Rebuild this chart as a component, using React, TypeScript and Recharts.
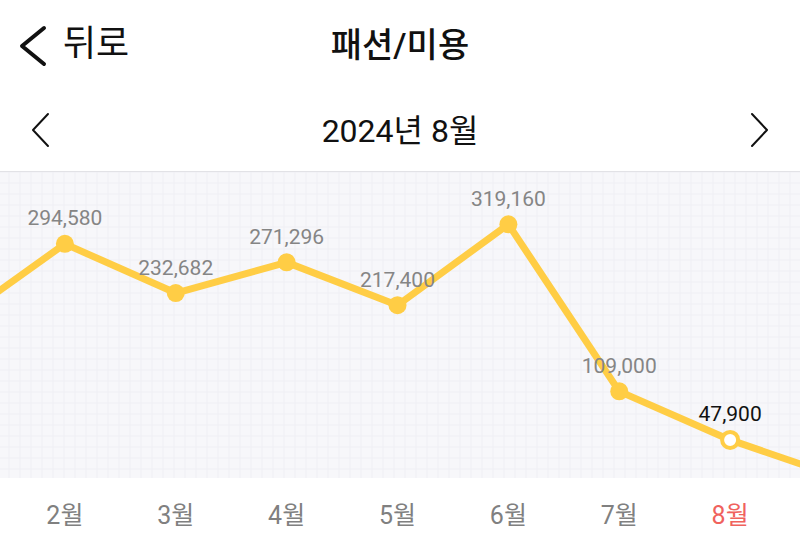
import React from "react";
import { LineChart, Line, XAxis, YAxis, CartesianGrid, LabelList } from "recharts";

// months incl. the neighbours that run off both edges of the screen
const months = ["1월", "2월", "3월", "4월", "5월", "6월", "7월", "8월", "9월"];
const sales = [195000, 294580, 232682, 271296, 217400, 319160, 109000, 47900, 0];
const currentMonth = "8월";
const yMax = 385000;

const YELLOW = "#FFCD45";
const FONT = "Roboto, 'Noto Sans CJK KR', sans-serif";

const data = months.map((m, i) => ({ month: m, value: sales[i] }));

// first and last month sit outside the visible screen
const offScreen = (i: number) => i === 0 || i === months.length - 1;

// faint graph-paper grid behind the line
const gridStep = 11;
const range = (from: number, to: number) => {
  const out: number[] = [];
  for (let v = from; v <= to; v += gridStep) out.push(v);
  return out;
};

const Dot = (props: any) => {
  const { cx, cy, payload } = props;
  if (cx == null || cy == null) return null;
  const isCurrent = payload.month === currentMonth;
  return (
    <circle
      cx={cx}
      cy={cy}
      r={isCurrent ? 8 : 9}
      fill={isCurrent ? "#fff" : YELLOW}
      stroke={YELLOW}
      strokeWidth={isCurrent ? 4 : 0}
    />
  );
};

const ValueLabel = (props: any) => {
  const { x, y, value, index } = props;
  if (offScreen(index)) return null;
  const isCurrent = months[index] === currentMonth;
  return (
    <text
      x={x}
      y={y - 24}
      textAnchor="middle"
      dominantBaseline="middle"
      fontSize={21}
      fontFamily={FONT}
      fill={isCurrent ? "#111" : "#858585"}
    >
      {value.toLocaleString("en-US")}
    </text>
  );
};

const MonthTick = (props: any) => {
  const { x, y, payload, index } = props;
  if (offScreen(index)) return null;
  const isCurrent = payload.value === currentMonth;
  return (
    <text
      x={x}
      y={y + 31}
      textAnchor="middle"
      dominantBaseline="middle"
      fontSize={25}
      fontFamily={FONT}
      fill={isCurrent ? "#F0625D" : "#808080"}
    >
      {payload.value}
    </text>
  );
};

const Chevron = ({ x, dir, w, h, sw }: { x: number; dir: "l" | "r"; w: number; h: number; sw: number }) => (
  <svg width={w + sw * 2} height={h + sw * 2} style={{ position: "absolute", left: x, top: 0 }}>
    <polyline
      points={
        dir === "l"
          ? `${w + sw},${sw} ${sw},${h / 2 + sw} ${w + sw},${h + sw}`
          : `${sw},${sw} ${w + sw},${h / 2 + sw} ${sw},${h + sw}`
      }
      fill="none"
      stroke="#111"
      strokeWidth={sw}
      strokeLinecap="round"
      strokeLinejoin="round"
    />
  </svg>
);

export default function App() {
  return (
    <div
      style={{
        position: "absolute",
        left: 0,
        top: 0,
        width: 800,
        height: 556,
        overflow: "hidden",
        background: "#fff",
        fontFamily: FONT,
        color: "#111",
      }}
    >
      {/* top bar */}
      <div style={{ position: "absolute", left: 0, top: 24, width: 800, height: 40 }}>
        <Chevron x={18} dir="l" w={22} h={36} sw={4} />
        <div style={{ position: "absolute", left: 63, top: 0, fontSize: 36, lineHeight: "40px" }}>뒤로</div>
        <div
          style={{
            position: "absolute",
            left: 0,
            width: 800,
            top: 0,
            textAlign: "center",
            fontSize: 34,
            fontWeight: 500,
            lineHeight: "42px",
          }}
        >
          패션/미용
        </div>
      </div>

      {/* month switcher */}
      <div style={{ position: "absolute", left: 0, top: 112, width: 800, height: 40 }}>
        <Chevron x={31} dir="l" w={15} h={32} sw={2} />
        <div
          style={{
            position: "absolute",
            left: 0,
            width: 800,
            top: 0,
            textAlign: "center",
            fontSize: 32,
            lineHeight: "38px",
          }}
        >
          2024년 8월
        </div>
        <Chevron x={750} dir="r" w={15} h={32} sw={2} />
      </div>

      {/* chart */}
      <div style={{ position: "absolute", left: 0, top: 171, width: 800, height: 1, background: "#e2e2e6" }} />
      <div style={{ position: "absolute", left: -46, top: 172 }}>
        <LineChart width={887} height={370} data={data} margin={{ top: 0, right: 0, bottom: 0, left: 0 }}>
          <CartesianGrid
            fill="#f7f7fa"
            stroke="#efeff4"
            strokeWidth={1}
            horizontalCoordinatesGenerator={() => range(0, 306)}
            verticalCoordinatesGenerator={() => range(0, 887)}
          />
          <XAxis
            dataKey="month"
            axisLine={false}
            tickLine={false}
            height={64}
            interval={0}
            tick={<MonthTick />}
          />
          <YAxis hide domain={[0, yMax]} />
          <Line
            type="linear"
            dataKey="value"
            stroke={YELLOW}
            strokeWidth={7}
            strokeLinejoin="round"
            dot={<Dot />}
            activeDot={false}
            isAnimationActive={false}
          >
            <LabelList dataKey="value" content={<ValueLabel />} />
          </Line>
        </LineChart>
      </div>
    </div>
  );
}
